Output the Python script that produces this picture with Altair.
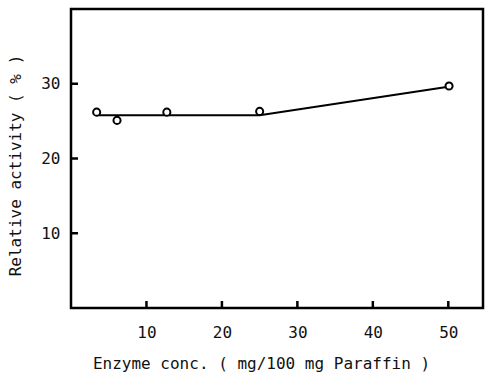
import altair as alt
import pandas as pd

# data
conc = [3.4, 6.1, 12.7, 25.0, 50.1]
activity = [26.2, 25.1, 26.2, 26.3, 29.7]
fit_x = [3.4, 25.0, 50.0]
fit_y = [25.8, 25.8, 29.6]
x_ticks = [10, 20, 30, 40, 50]
y_ticks = [10, 20, 30]

pts = pd.DataFrame({"x": conc, "y": activity})
fit = pd.DataFrame({"x": fit_x, "y": fit_y})
xt = pd.DataFrame({"v": x_ticks})
yt = pd.DataFrame({"v": y_ticks})

FONT = "DejaVu Sans Mono"
W, H = 412, 299
xs = alt.Scale(domain=[0, 54.6], nice=False, zero=False)
ys = alt.Scale(domain=[0, 40], nice=False, zero=False)

xaxis = alt.Axis(values=x_ticks, ticks=False, tickSize=0, domain=False, grid=False,
                 labelFont=FONT, labelFontSize=16, labelColor="#111", labelPadding=16,
                 title="Enzyme conc. ( mg/100 mg Paraffin )", titleFont=FONT,
                 titleFontSize=16, titleFontWeight="normal", titleColor="#111",
                 titleX=190, titleY=55, titleBaseline="middle", titleAnchor="middle",
                 titleAlign="center")
yaxis = alt.Axis(values=y_ticks, ticks=False, tickSize=0, domain=False, grid=False,
                 labelFont=FONT, labelFontSize=16, labelColor="#111", labelPadding=11,
                 title="Relative activity ( % )", titleFont=FONT, titleFontSize=16,
                 titleFontWeight="normal", titleColor="#111",
                 titleX=-56, titleY=156, titleBaseline="middle", titleAlign="center",
                 titleAngle=270)

line = alt.Chart(fit).mark_line(color="black", strokeWidth=2).encode(
    x=alt.X("x:Q", scale=xs, axis=xaxis),
    y=alt.Y("y:Q", scale=ys, axis=yaxis),
)
points = alt.Chart(pts).mark_point(shape="circle", size=50, filled=False, fill="white",
                                   fillOpacity=1, color="black", strokeWidth=2,
                                   opacity=1).encode(
    x=alt.X("x:Q", scale=xs),
    y=alt.Y("y:Q", scale=ys),
)
xtick_marks = alt.Chart(xt).mark_rule(color="black", strokeWidth=2.5).encode(
    x=alt.X("v:Q", scale=xs),
    y=alt.value(H),
    y2=alt.value(H - 7),
)
ytick_marks = alt.Chart(yt).mark_rule(color="black", strokeWidth=2.5).encode(
    y=alt.Y("v:Q", scale=ys),
    x=alt.value(0),
    x2=alt.value(7),
)

chart = alt.layer(line, xtick_marks, ytick_marks, points).properties(
    width=W, height=H,
    padding={"left": 71, "top": 9, "right": 3, "bottom": 67},
    autosize="none",
    background="white",
).configure_view(stroke="black", strokeWidth=2.5)

chart.save("out.html", embed_options={"renderer": "svg", "actions": False})
